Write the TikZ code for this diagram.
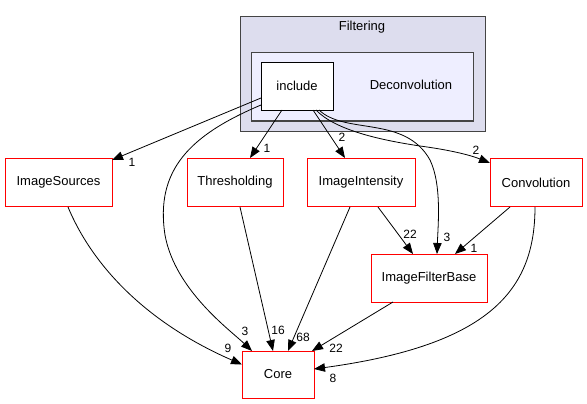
\documentclass[tikz,border=0pt]{standalone}
\usepackage{fontspec}
\setmainfont{Liberation Sans}
\usetikzlibrary{arrows.meta,calc}
\definecolor{clout}{HTML}{DDDDEE}
\definecolor{clin}{HTML}{EEEEFF}
\definecolor{clborder}{HTML}{444444}
\begin{document}
\begin{tikzpicture}[x=1pt,y=-1pt,
  box/.style={draw=red,line width=0.9pt,fill=white,minimum height=48pt,inner sep=0pt,font=\fontsize{13}{15}\selectfont},
  cluster/.style={draw=clborder,line width=1.2pt,anchor=north west,inner sep=0pt},
  edge/.style={line width=0.8pt,-{Triangle[length=11pt,width=8.5pt]}},
  lbl/.style={inner sep=0pt,font=\fontsize{12}{14}\selectfont},
  ttl/.style={inner sep=0pt,font=\fontsize{13}{15}\selectfont}]
\useasboundingbox (0,0) rectangle (587,404);
\fill[white] (0,0) rectangle (587,404);
% clusters
\node[cluster,fill=clout,minimum width=245pt,minimum height=115pt] (filt) at (239.5,16) {};
\node[ttl] (filtlbl) at (362,27) {Filtering};
\node[cluster,fill=clin,minimum width=222pt,minimum height=68.5pt] (decon) at (250.5,52) {};
\node[ttl] (deconlbl) at (411,85) {Deconvolution};
\node[draw=black,line width=0.9pt,fill=white,minimum width=72pt,minimum height=48pt,inner sep=0pt,font=\fontsize{13}{15}\selectfont] (inc) at (297,86) {include};
% nodes
\node[box,minimum width=107pt] (isrc) at (58.5,182.5) {ImageSources};
\node[box,minimum width=96pt] (thr) at (235,182.5) {Thresholding};
\node[box,minimum width=108pt] (iint) at (361,182.5) {ImageIntensity};
\node[box,minimum width=92pt] (conv) at (536,182.5) {Convolution};
\node[box,minimum width=116pt] (ifb) at (429,278) {ImageFilterBase};
\node[box,minimum width=72pt,minimum height=47pt] (core) at (278,374.5) {Core};
% edges from include
\draw[edge] ($(inc)+(-36,12)$) -- ($(isrc)+(53.5,-22.5)$);
\draw[edge] ($(inc)+(-36,19)$) .. controls (190,135) and (155,170) .. (165,235) .. controls (175,290) and (230,330) .. ($(core)+(-26,-23.5)$);
\draw[edge] ($(inc)+(-15,24)$) -- ($(thr)+(15,-24.5)$);
\draw[edge] ($(inc)+(16,24)$) -- ($(iint)+(-16,-24.5)$);
\draw[edge] ($(inc)+(19,24)$) .. controls (335,130) and (380,140) .. (420,146) .. controls (450,150) and (470,155) .. ($(conv)+(-46,-19.5)$);
\draw[edge] ($(inc)+(22,24)$) .. controls (345,135) and (405,115) .. (430,160) .. controls (442,185) and (438,225) .. ($(ifb)+(8,-24)$);
% other edges
\draw[edge] ($(isrc)+(9.5,24.5)$) .. controls (90,260) and (140,320) .. ($(core)+(-36,-10)$);
\draw[edge] ($(thr)+(5,24.5)$) -- ($(core)+(-5,-23.5)$);
\draw[edge] ($(iint)+(-11,24.5)$) -- ($(core)+(10,-23.5)$);
\draw[edge] ($(iint)+(17,24.5)$) -- ($(ifb)+(-16,-24)$);
\draw[edge] ($(conv)+(-26,24.5)$) -- ($(ifb)+(26,-24)$);
\draw[edge] ($(conv)+(-1,24.5)$) .. controls (535,290) and (490,345) .. ($(core)+(36,-5.5)$);
\draw[edge] ($(ifb)+(-36,24)$) -- ($(core)+(34,-23.5)$);
% labels
\node[lbl] (l1) at (132,162) {1};
\node[lbl] (l2) at (267,148) {1};
\node[lbl] (l3) at (245,331) {3};
\node[lbl] (l4) at (228,348) {9};
\node[lbl] (l5) at (278,330) {16};
\node[lbl] (l6) at (303,337) {68};
\node[lbl] (l7) at (336,348) {22};
\node[lbl] (l8) at (333,378) {8};
\node[lbl] (l9) at (342,137) {2};
\node[lbl] (l10) at (476,150) {2};
\node[lbl] (l11) at (410,234) {22};
\node[lbl] (l12) at (447,237) {3};
\node[lbl] (l13) at (474,248) {1};
\end{tikzpicture}
\end{document}
